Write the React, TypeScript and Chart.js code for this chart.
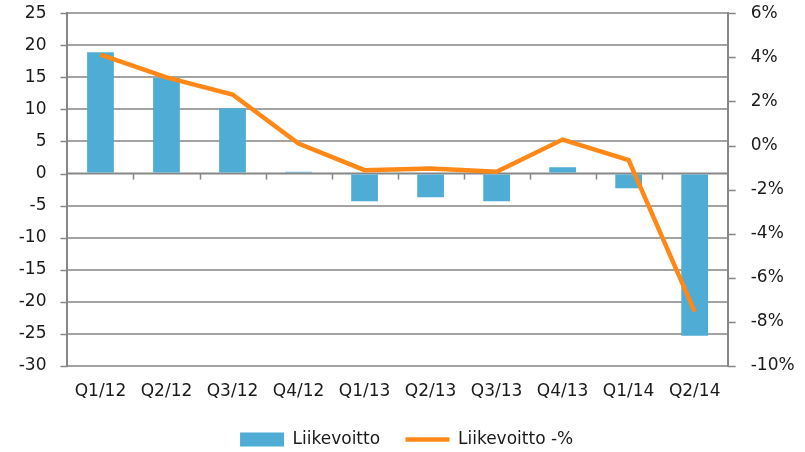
import { useEffect, useRef } from "react";
import { Chart, registerables } from "chart.js";

Chart.register(...registerables);

const categories = ["Q1/12", "Q2/12", "Q3/12", "Q4/12", "Q1/13", "Q2/13", "Q3/13", "Q4/13", "Q1/14", "Q2/14"];
const profit = [18.9, 14.9, 10.2, 0.3, -4.3, -3.7, -4.3, 1.0, -2.3, -25.3];
const profitPct = [4.12, 3.09, 2.31, 0.09, -1.12, -1.04, -1.19, 0.27, -0.66, -7.53];
const seriesNames = ["Liikevoitto", "Liikevoitto -%"];

const FONT = "'DejaVu Sans', sans-serif";
const FS = 17;
const AXIS = "#878787";

const axisMarksPlugin = {
  id: "axisMarks",
  beforeDatasetsDraw(chart: any) {
    const { ctx, chartArea, scales } = chart;
    const x = scales.x;
    const y = scales.y;
    const y1 = scales.y1;
    const y0 = y.getPixelForValue(0);
    ctx.save();
    ctx.strokeStyle = AXIS;
    ctx.lineWidth = 2;
    ctx.beginPath();
    ctx.moveTo(chartArea.left, y0);
    ctx.lineTo(chartArea.right, y0);
    ctx.stroke();
    const n = categories.length;
    const step = (chartArea.right - chartArea.left) / n;
    ctx.lineWidth = 1.5;
    for (let i = 1; i < n; i++) {
      const px = Math.round(x.getPixelForValue(i) - step / 2) + 0.5;
      ctx.beginPath();
      ctx.moveTo(px, y0);
      ctx.lineTo(px, y0 + 6);
      ctx.stroke();
    }
    for (const t of y.ticks) {
      const py = Math.round(y.getPixelForValue(t.value)) + 0.5;
      ctx.beginPath();
      ctx.moveTo(chartArea.left - 7, py);
      ctx.lineTo(chartArea.left, py);
      ctx.stroke();
    }
    for (const t of y1.ticks) {
      const py = Math.round(y1.getPixelForValue(t.value)) + 0.5;
      ctx.beginPath();
      ctx.moveTo(chartArea.right, py);
      ctx.lineTo(chartArea.right + 8, py);
      ctx.stroke();
    }
    ctx.restore();
  },
};

export default function App() {
  const ref = useRef<HTMLCanvasElement | null>(null);
  useEffect(() => {
    document.body.style.margin = "0";
    const chart = new Chart(ref.current as HTMLCanvasElement, {
      type: "bar",
      data: {
        labels: categories,
        datasets: [
          {
            type: "bar",
            label: seriesNames[0],
            data: profit,
            backgroundColor: "#4FACD5",
            borderWidth: 0,
            categoryPercentage: 1,
            barPercentage: 0.405,
            yAxisID: "y",
            pointStyle: "rect",
            order: 2,
          },
          {
            type: "line",
            label: seriesNames[1],
            data: profitPct,
            borderColor: "#FF8816",
            backgroundColor: "#FF8816",
            borderWidth: 4.5,
            pointRadius: 0,
            tension: 0,
            yAxisID: "y1",
            pointStyle: "line",
            order: 1,
          },
        ] as any,
      },
      options: {
        animation: false,
        responsive: true,
        maintainAspectRatio: false,
        layout: { padding: { left: 15.7, right: 7.4, top: 0, bottom: -6 } },
        plugins: {
          legend: {
            position: "bottom",
            labels: {
              usePointStyle: true,
              pointStyleWidth: 44,
              boxHeight: 14,
              padding: 14.6,
              color: "#1a1a1a",
              font: { family: FONT, size: FS },
              sort: (a: any, b: any) => a.datasetIndex - b.datasetIndex,
              generateLabels: (c: any) =>
                Chart.defaults.plugins.legend.labels
                  .generateLabels(c)
                  .map((it: any) => ({ ...it, text: it.datasetIndex === 0 ? it.text + "  " : it.text })),
            },
          },
          tooltip: { enabled: false },
        },
        scales: {
          x: {
            grid: { display: false, drawTicks: false },
            border: { display: false },
            ticks: { color: "#1a1a1a", font: { family: FONT, size: FS }, padding: 15, maxRotation: 0 },
          },
          y: {
            position: "left",
            min: -30,
            max: 25,
            ticks: { stepSize: 5, color: "#1a1a1a", font: { family: FONT, size: FS }, padding: 3 },
            grid: {
              color: (c: any) => (c.tick && c.tick.value === 0 ? "rgba(0,0,0,0)" : "#a3a3a3"),
              lineWidth: 2,
              tickColor: "rgba(0,0,0,0)",
              tickLength: 18,
            },
            border: { display: true, color: AXIS, width: 2 },
          },
          y1: {
            position: "right",
            min: -10,
            max: 6,
            ticks: {
              stepSize: 2,
              color: "#1a1a1a",
              font: { family: FONT, size: FS },
              padding: 3,
              callback: (v: any) => v + "%",
            },
            grid: { drawOnChartArea: false, tickColor: "rgba(0,0,0,0)", tickLength: 20 },
            border: { display: true, color: AXIS, width: 2 },
          },
        },
      } as any,
      plugins: [axisMarksPlugin],
    });
    return () => chart.destroy();
  }, []);
  return (
    <div style={{ width: 805, height: 452, position: "relative" }}>
      <canvas ref={ref} />
    </div>
  );
}
